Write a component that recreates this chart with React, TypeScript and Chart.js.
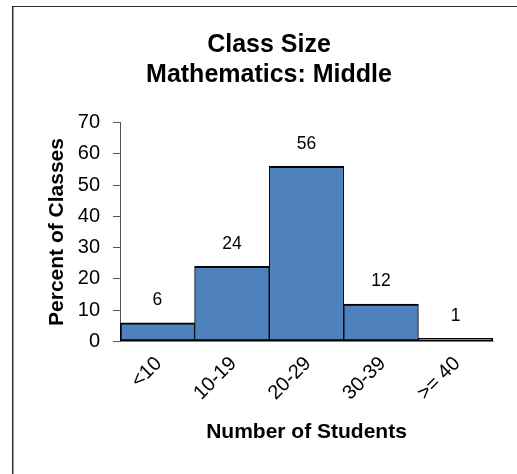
import React, { useEffect, useRef } from "react";
import { Chart, registerables } from "chart.js";

Chart.register(...registerables);

const categories = ["<10", "10-19", "20-29", "30-39", ">= 40"];
const percentValues = [6, 24, 56, 12, 1];
const yTickMin = 0;
const yTickMax = 70;
const yTickStep = 10;
const titleLines = ["Class Size", "Mathematics: Middle"];
const xAxisTitle = "Number of Students";
const yAxisTitle = "Percent of Classes";

const FONT = "'Liberation Sans', Arial, sans-serif";

const framePlugin = {
  id: "frame",
  beforeDraw(chart: any) {
    const ctx = chart.ctx;
    ctx.save();
    ctx.fillStyle = "#ffffff";
    ctx.fillRect(0, 0, chart.width, chart.height);
    ctx.fillStyle = "#2e2e2e";
    ctx.fillRect(12, 6, chart.width - 12, 1);
    ctx.fillRect(12, 6, 1, chart.height - 6);
    ctx.fillStyle = "#9a9a9a";
    ctx.fillRect(13, 7, 1, chart.height - 7);
    ctx.restore();
  },
};

const valueLabelPlugin = {
  id: "valueLabels",
  afterDatasetsDraw(chart: any) {
    const ctx = chart.ctx;
    const meta = chart.getDatasetMeta(0);
    ctx.save();
    ctx.font = `17.5px ${FONT}`;
    ctx.fillStyle = "#000000";
    ctx.textAlign = "center";
    ctx.textBaseline = "middle";
    meta.data.forEach((bar: any, i: number) => {
      ctx.fillText(String(percentValues[i]), bar.x, bar.y - 22.5);
    });
    ctx.restore();
  },
};

export default function App() {
  const canvasRef = useRef<HTMLCanvasElement | null>(null);

  useEffect(() => {
    if (!canvasRef.current) return;
    const chart = new Chart(canvasRef.current, {
      type: "bar",
      data: {
        labels: categories,
        datasets: [
          {
            data: percentValues,
            backgroundColor: "#4F81BD",
            borderColor: "#000000",
            borderWidth: (c: any) => ({
              top: 2,
              bottom: 2,
              left: c.dataIndex === 0 ? 2 : 1,
              right: c.dataIndex === categories.length - 1 ? 2 : 1,
            }),
            borderSkipped: false,
            barPercentage: 1,
            categoryPercentage: 1,
          },
        ],
      },
      options: {
        animation: false,
        responsive: true,
        maintainAspectRatio: false,
        layout: { padding: { left: 45, right: 24, top: 0, bottom: 29.5 } },
        plugins: {
          legend: { display: false },
          tooltip: { enabled: false },
          title: {
            display: true,
            text: titleLines,
            color: "#000000",
            font: { family: FONT, size: 25, weight: "bold", lineHeight: 1.2 },
            padding: { top: 30.5, bottom: 32 },
          },
        },
        scales: {
          x: {
            afterFit: (scale: any) => {
              scale.height = 103;
            },
            grid: { display: true, drawOnChartArea: false, drawTicks: false, tickLength: 0 },
            border: { display: true, color: "#808080", width: 1 },
            ticks: {
              color: "#000000",
              font: { family: FONT, size: 20 },
              minRotation: 45,
              maxRotation: 45,
              autoSkip: false,
              padding: 10.5,
              labelOffset: 1.5,
            },
            title: {
              display: true,
              text: xAxisTitle,
              color: "#000000",
              font: { family: FONT, size: 21, weight: "bold", lineHeight: 1.2 },
              padding: { top: 0, bottom: 0 },
            },
          },
          y: {
            min: yTickMin,
            max: yTickMax,
            afterFit: (scale: any) => {
              scale.width = 75;
            },
            grid: { display: true, drawOnChartArea: false, drawTicks: true, tickLength: 7, color: "#555555" },
            border: { display: true, color: "#555555", width: 1 },
            ticks: {
              stepSize: yTickStep,
              color: "#000000",
              font: { family: FONT, size: 20 },
              padding: 13,
            },
            title: {
              display: true,
              text: yAxisTitle,
              color: "#000000",
              font: { family: FONT, size: 21, weight: "bold", lineHeight: 1.2 },
              padding: { top: 0, bottom: 0 },
            },
          },
        },
      },
      plugins: [framePlugin, valueLabelPlugin],
    } as any);
    return () => chart.destroy();
  }, []);

  return (
    <div style={{ position: "absolute", left: 0, top: 0, width: 517, height: 474 }}>
      <canvas ref={canvasRef} />
    </div>
  );
}
